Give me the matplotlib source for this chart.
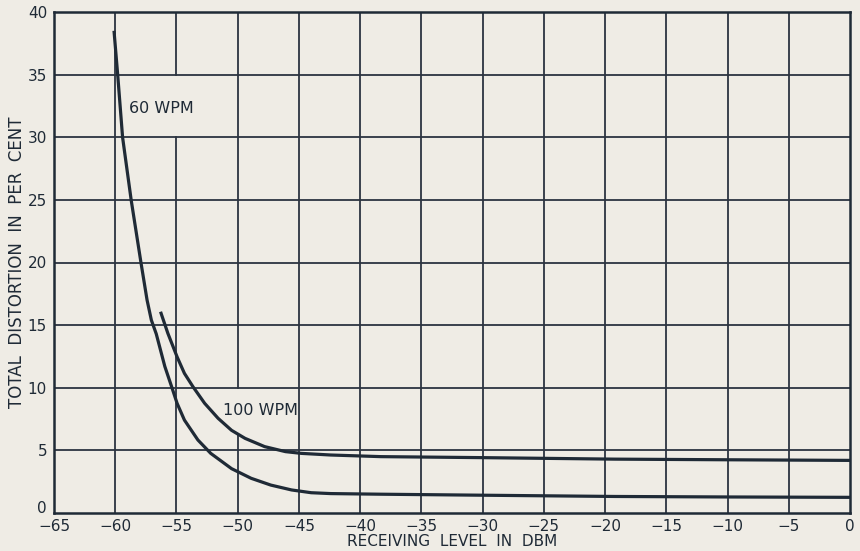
import matplotlib
matplotlib.use("Agg")
import matplotlib.pyplot as plt

# values
x_60 = [-60.1, -59.8, -59.4, -58.7, -57.9, -57.4, -57.05, -56.65, -55.95, -55.4,
        -54.95, -54.35, -53.25, -52.2, -50.5, -48.9, -47.3, -45.6, -44.0, -42.4,
        -38.3, -30.0, -19.2, -10.0, 0.0]
y_60 = [38.5, 35.0, 30.0, 25.0, 20.0, 17.0, 15.4, 14.3, 11.7, 10.1,
        8.76, 7.42, 5.83, 4.76, 3.54, 2.77, 2.23, 1.84, 1.62, 1.55,
        1.5, 1.42, 1.32, 1.28, 1.25]

x_100 = [-56.3, -55.7, -54.95, -54.35, -53.65, -52.7, -51.6, -50.5, -49.4, -47.8,
         -46.1, -44.8, -42.4, -38.3, -30.0, -19.2, -10.0, 0.0]
y_100 = [16.07, 14.34, 12.47, 11.15, 10.08, 8.76, 7.56, 6.6, 5.96, 5.3,
         4.9, 4.76, 4.63, 4.5, 4.42, 4.3, 4.25, 4.2]

x_ticks = list(range(-65, 1, 5))
y_ticks = list(range(0, 41, 5))

bg = '#efece5'
ink = '#1f2a36'
grid_col = '#2c3440'

fig = plt.figure(figsize=(8.6, 5.51), dpi=100, facecolor=bg)
ax = fig.add_axes([54 / 860, 38 / 551, 796 / 860, 501 / 551])
ax.set_facecolor(bg)

# grid, with the gaps the original leaves around the labels
gaps = {-55: [(0, 30), (35, 40)], -50: [(0, 6.2), (10, 40)]}
for xv in x_ticks[1:-1]:
    for lo, hi in gaps.get(xv, [(0, 40)]):
        ax.plot([xv, xv], [lo, hi], color=grid_col, lw=1.3, zorder=1)
for yv in y_ticks[1:-1]:
    ax.plot([-65, 0], [yv, yv], color=grid_col, lw=1.3, zorder=1)

ax.plot(x_60, y_60, color=ink, lw=2.3, zorder=3, solid_capstyle='butt')
ax.plot(x_100, y_100, color=ink, lw=2.3, zorder=3, solid_capstyle='butt')

ax.text(-58.9, 32.3, '60 WPM', fontsize=11.5, color=ink, va='center', ha='left')
ax.text(-51.2, 8.15, '100 WPM', fontsize=11.5, color=ink, va='center', ha='left')

ax.set_xlim(-65, 0)
ax.set_ylim(0, 40)
ax.set_xticks(x_ticks)
ax.set_yticks(y_ticks)
ax.set_xticklabels(['\u2212' + str(-v) if v < 0 else str(v) for v in x_ticks])
ax.tick_params(length=0, labelsize=11, colors=ink)
ax.tick_params(axis='x', pad=4.5)
ax.tick_params(axis='y', pad=5)
ylabs = ax.get_yticklabels()
for lab in ylabs:
    lab.set_verticalalignment('center_baseline')
ylabs[0].set_verticalalignment('baseline')
for s in ax.spines.values():
    s.set_color(ink)
    s.set_linewidth(1.8)

ax.set_xlabel('RECEIVING  LEVEL  IN  DBM', fontsize=11, color=ink, labelpad=0)
ax.set_ylabel('TOTAL  DISTORTION  IN  PER  CENT', fontsize=12, color=ink, labelpad=1)

fig.savefig('out.png', dpi=100, facecolor=bg)
